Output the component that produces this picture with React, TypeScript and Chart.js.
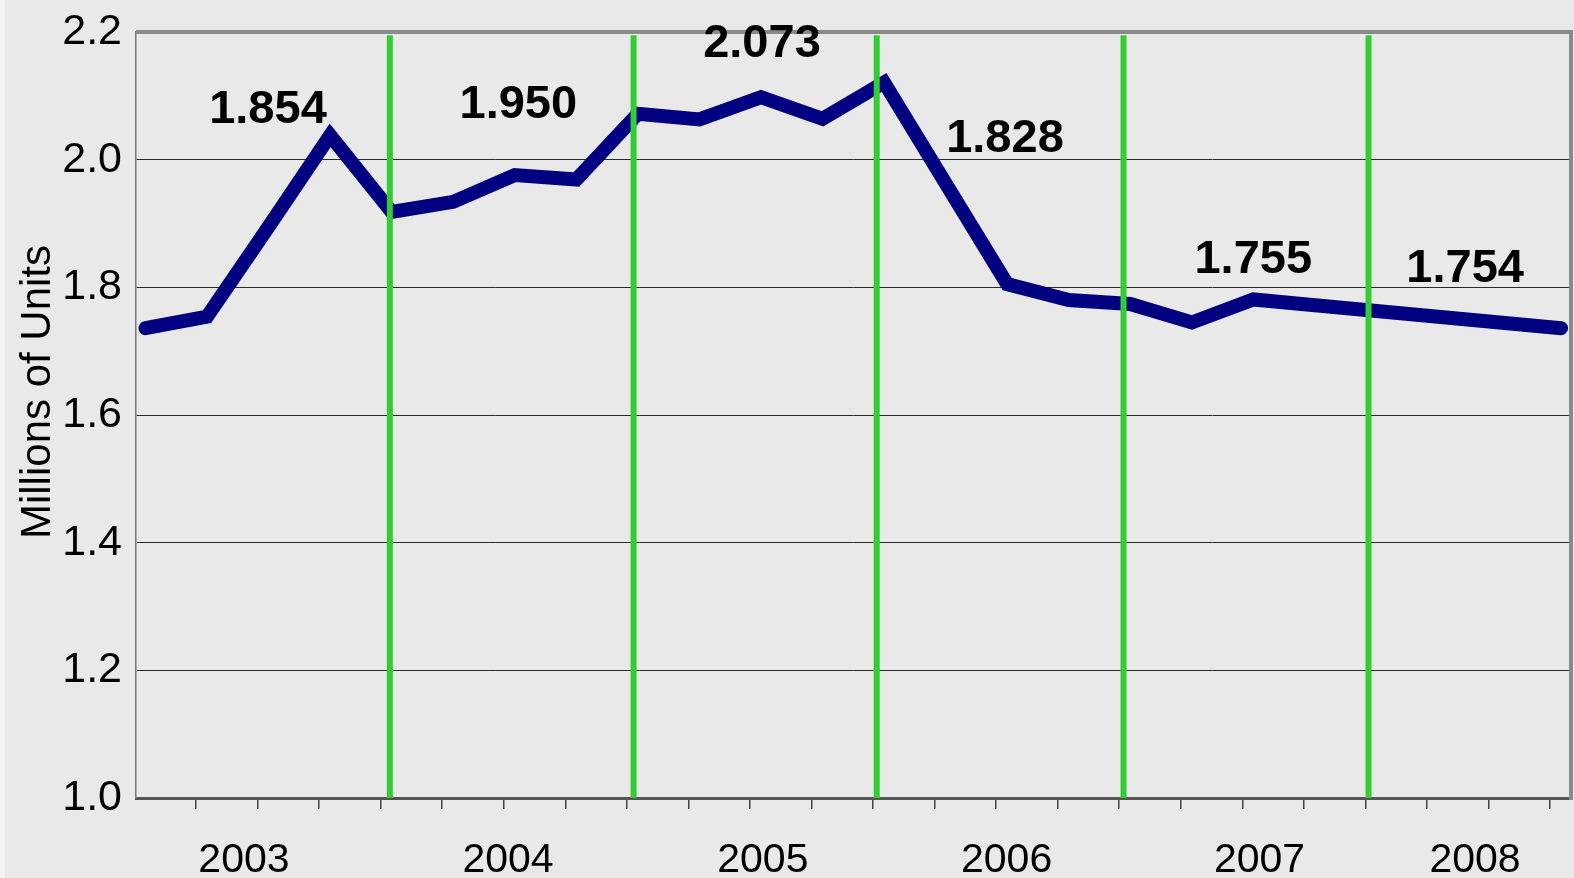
import React, { useEffect, useRef } from 'react';
import { Chart, registerables } from 'chart.js';

Chart.register(...registerables);

// ---------------- data ----------------
const quarters = [
  '2003 Q1', '2003 Q2', '2003 Q3', '2003 Q4',
  '2004 Q1', '2004 Q2', '2004 Q3', '2004 Q4',
  '2005 Q1', '2005 Q2', '2005 Q3', '2005 Q4',
  '2006 Q1', '2006 Q2', '2006 Q3', '2006 Q4',
  '2007 Q1', '2007 Q2', '2007 Q3', '2007 Q4',
  '2008 Q1', '2008 Q2', '2008 Q3', '2008 Q4',
];
const housingStarts = [
  1.736, 1.754, 1.895, 2.038,
  1.918, 1.934, 1.976, 1.969,
  2.072, 2.063, 2.098, 2.064,
  2.121, 1.963, 1.805, 1.780,
  1.774, 1.745, 1.781, 1.772,
  1.763, 1.754, 1.745, 1.736,
];
const yearLabels = ['2003', '2004', '2005', '2006', '2007', '2008'];
const annualTotals = [1.854, 1.950, 2.073, 1.828, 1.755, 1.754];
const yTickValues = [1.0, 1.2, 1.4, 1.6, 1.8, 2.0, 2.2];
const yAxisTitle = 'Millions of Units';

// ---------------- layout (in axis units) ----------------
const X_MIN = -0.154;
const X_MAX = 23.16;
const yearLabelPos = [1.6, 5.89, 10.03, 13.99, 18.1, 21.6];
const yearDividerPos = [3.97, 7.93, 11.88, 15.89, 19.87];
const dividerTop = 2.195;
const annotationX = [1.99, 6.057, 10.016, 13.964, 17.998, 21.44];
const annotationBaseY = [2.058, 2.066, 2.1605, 2.0125, 1.822, 1.809];
const tickMarkPos = quarters.slice(0, 23).map((_, i) => i + 0.82);

const FONT = "'Liberation Sans', Arial, Helvetica, sans-serif";

const overlayPlugin = {
  id: 'overlay',
  beforeDraw(chart: any) {
    const { ctx, width, height } = chart;
    ctx.save();
    ctx.fillStyle = '#f3f3f3';
    ctx.fillRect(0, 0, width, height);
    ctx.fillStyle = '#e9e9e9';
    ctx.fillRect(5, 0, width - 5, height);
    ctx.restore();
  },
  beforeDatasetsDraw(chart: any) {
    const { ctx, chartArea } = chart;
    ctx.save();
    ctx.strokeStyle = '#8a8a8a';
    ctx.lineWidth = 4;
    ctx.beginPath();
    ctx.moveTo(chartArea.left, chartArea.top);
    ctx.lineTo(chartArea.right, chartArea.top);
    ctx.lineTo(chartArea.right, chartArea.bottom + 2);
    ctx.stroke();
    ctx.restore();
  },
  afterDraw(chart: any) {
    const { ctx, scales } = chart;
    ctx.save();
    // annual totals
    ctx.fillStyle = '#000';
    ctx.font = `bold 47px ${FONT}`;
    ctx.textAlign = 'center';
    ctx.textBaseline = 'alphabetic';
    annualTotals.forEach((v, i) => {
      const px = scales.x.getPixelForValue(annotationX[i]);
      const py = scales.y.getPixelForValue(annotationBaseY[i]);
      ctx.fillText(v.toFixed(3), px, py);
    });
    // y axis title
    ctx.font = `42px ${FONT}`;
    ctx.translate(50, 392);
    ctx.rotate(-Math.PI / 2);
    ctx.textAlign = 'center';
    ctx.textBaseline = 'alphabetic';
    ctx.fillText(yAxisTitle, 0, 0);
    ctx.restore();
  },
};

export default function App() {
  const canvasRef = useRef<HTMLCanvasElement | null>(null);

  useEffect(() => {
    if (!canvasRef.current) return;
    const dividerSets = yearDividerPos.map((x) => ({
      type: 'line',
      data: [
        { x, y: 1.0 },
        { x, y: dividerTop },
      ],
      borderColor: '#33cc33',
      borderWidth: 6,
      pointRadius: 0,
      borderCapStyle: 'butt',
      order: 0,
    }));
    const chart = new Chart(canvasRef.current, {
      type: 'line',
      data: {
        datasets: [
          ...dividerSets,
          {
            label: 'Housing starts',
            data: housingStarts.map((v, i) => ({ x: i, y: v })),
            borderColor: '#000080',
            borderWidth: 14,
            pointRadius: 0,
            tension: 0,
            borderCapStyle: 'round',
            borderJoinStyle: 'miter',
            order: 2,
          },
        ] as any,
      },
      options: {
        animation: false,
        responsive: false,
        maintainAspectRatio: false,
        layout: { padding: { left: 0, top: 32, right: 3, bottom: 0 } },
        plugins: {
          legend: { display: false },
          tooltip: { enabled: false },
          title: { display: false },
        },
        scales: {
          x: {
            type: 'linear',
            position: 'bottom',
            weight: 0,
            min: X_MIN,
            max: X_MAX,
            afterBuildTicks: (s: any) => {
              s.ticks = tickMarkPos.map((v) => ({ value: v }));
            },
            afterFit: (s: any) => {
              s.height = 12;
            },
            ticks: {
              callback: () => '',
              padding: 0,
              autoSkip: false,
              maxRotation: 0,
              font: { size: 1 },
            },
            grid: {
              display: true,
              drawOnChartArea: false,
              drawTicks: true,
              tickLength: 11,
              color: '#444',
              lineWidth: 1.5,
            },
            border: { display: true, color: '#555', width: 3 },
          },
          xYear: {
            type: 'linear',
            position: 'bottom',
            weight: 1,
            min: X_MIN,
            max: X_MAX,
            afterBuildTicks: (s: any) => {
              s.ticks = yearLabelPos.map((v) => ({ value: v }));
            },
            afterFit: (s: any) => {
              s.height = 68;
            },
            ticks: {
              callback: (_v: any, i: number) => yearLabels[i],
              padding: 26,
              autoSkip: false,
              maxRotation: 0,
              color: '#000',
              font: { size: 41, family: FONT },
            },
            grid: { display: false, drawTicks: false },
            border: { display: false },
          },
          y: {
            type: 'linear',
            min: 1.0,
            max: 2.2,
            afterBuildTicks: (s: any) => {
              s.ticks = yTickValues.map((v) => ({ value: v }));
            },
            afterFit: (s: any) => {
              s.width = 136;
            },
            ticks: {
              callback: (v: any) => Number(v).toFixed(1),
              padding: 14,
              color: '#000',
              font: { size: 43, family: FONT, lineHeight: 0.4 },
            },
            grid: { color: '#2a2a2a', lineWidth: 1, drawTicks: false },
            border: { display: true, color: '#777', width: 1.5 },
          },
        },
      } as any,
      plugins: [overlayPlugin],
    });
    return () => chart.destroy();
  }, []);

  return (
    <div style={{ position: 'fixed', left: 0, top: 0, width: 1574, height: 878 }}>
      <canvas ref={canvasRef} width={1574} height={878} style={{ display: 'block' }} />
    </div>
  );
}
